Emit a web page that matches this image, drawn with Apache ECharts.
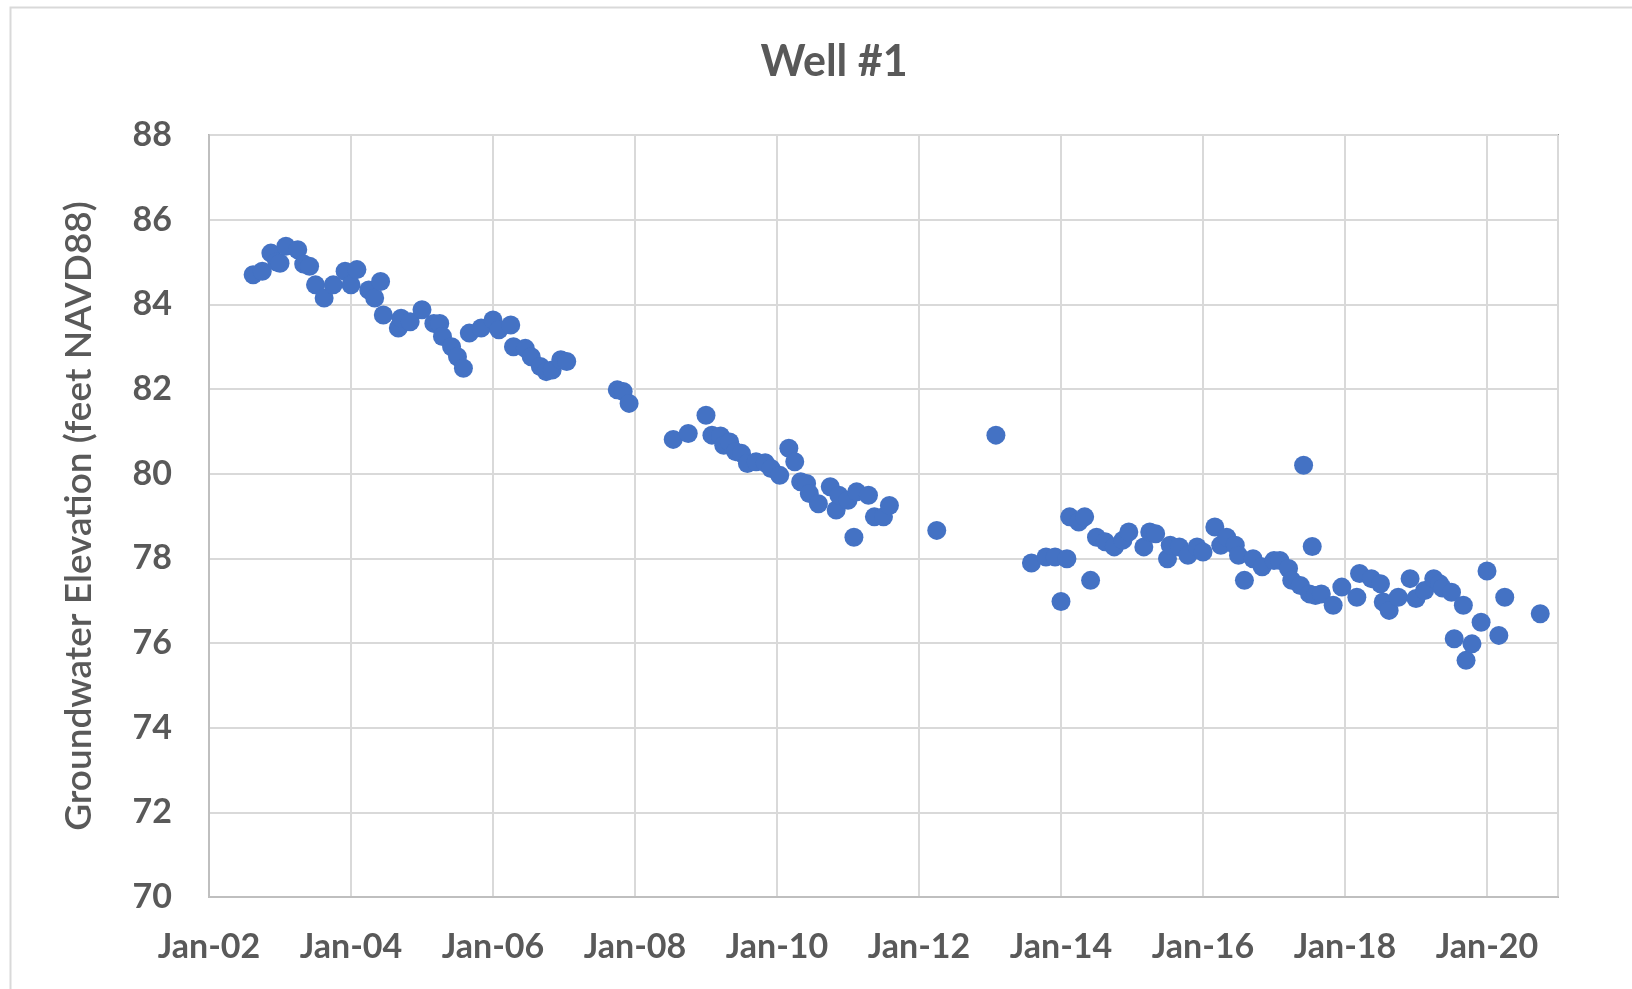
<!DOCTYPE html>
<html>
<head>
<meta charset="utf-8">
<script src="https://cdn.jsdelivr.net/npm/echarts@6/dist/echarts.min.js"></script>
<style>
html,body{margin:0;padding:0;background:#fff;}
#chart{width:1632px;height:989px;}
</style>
</head>
<body>
<div id="chart"></div>
<script>
const title = 'Well #1';
const yAxisTitle = 'Groundwater Elevation (feet NAVD88)';
const xTickYears = [2002, 2004, 2006, 2008, 2010, 2012, 2014, 2016, 2018, 2020];
const yTicks = [70, 72, 74, 76, 78, 80, 82, 84, 86, 88];

const dates = [
  '2002-08-15','2002-10-01','2002-11-15','2002-12-15','2003-01-01','2003-02-01','2003-04-01','2003-05-01','2003-06-01','2003-07-01',
  '2003-08-15','2003-10-01','2003-12-01','2004-01-01','2004-02-01','2004-04-01','2004-05-01','2004-06-01','2004-06-15','2004-09-01',
  '2004-09-15','2004-11-01','2005-01-01','2005-03-01','2005-04-01','2005-04-15','2005-06-01','2005-07-01','2005-08-01','2005-09-01',
  '2005-11-01','2006-01-01','2006-02-01','2006-04-01','2006-04-15','2006-06-15','2006-07-15','2006-09-01','2006-10-01','2006-11-01',
  '2006-12-15','2007-01-15',
  '2007-10-01','2007-11-01','2007-12-01','2008-07-15','2008-10-01','2009-01-01','2009-02-01','2009-03-15','2009-04-01','2009-05-01',
  '2009-06-01','2009-07-01','2009-08-01','2009-09-15','2009-11-01','2009-12-01','2010-01-15','2010-03-01','2010-04-01','2010-05-01',
  '2010-06-01','2010-06-15','2010-08-01','2010-10-01','2010-11-01','2010-11-15','2011-01-01','2011-02-01','2011-02-15','2011-04-15',
  '2011-05-15','2011-07-01','2011-08-01','2012-04-01','2013-02-01',
  '2013-08-01','2013-10-15','2013-12-01','2014-01-01','2014-02-01','2014-02-15','2014-04-01','2014-05-01','2014-06-01','2014-07-01',
  '2014-08-15','2014-10-01','2014-11-15','2014-12-15','2015-03-01','2015-04-01','2015-05-01','2015-07-01','2015-07-15','2015-09-01',
  '2015-10-15','2015-12-01','2016-01-01','2016-03-01','2016-04-01','2016-05-01','2016-06-15','2016-07-01','2016-08-01','2016-09-15',
  '2016-11-01','2017-01-01','2017-02-01','2017-03-15','2017-04-01','2017-05-15','2017-06-01','2017-07-01','2017-07-15','2017-08-01',
  '2017-09-01','2017-11-01','2017-12-15','2018-03-01','2018-03-15','2018-05-15','2018-07-01','2018-07-15','2018-08-15','2018-10-01',
  '2018-12-01','2019-01-01','2019-02-15','2019-04-01','2019-05-01','2019-05-15','2019-07-01','2019-07-15','2019-09-01','2019-09-15',
  '2019-10-15','2019-12-01','2020-01-01','2020-03-01','2020-04-01','2020-10-01'
];
const elevations = [
  84.70,84.78,85.21,85.00,84.97,85.37,85.29,84.95,84.90,84.46,
  84.15,84.46,84.78,84.46,84.82,84.34,84.15,84.54,83.75,83.44,
  83.67,83.59,83.87,83.55,83.55,83.24,83.00,82.76,82.49,83.32,
  83.44,83.63,83.40,83.51,83.00,82.96,82.76,82.53,82.41,82.45,
  82.69,82.65,
  81.98,81.94,81.66,80.81,80.95,81.38,80.91,80.89,80.67,80.75,
  80.52,80.48,80.24,80.28,80.26,80.12,79.96,80.60,80.28,79.81,
  79.77,79.53,79.29,79.69,79.14,79.49,79.37,78.50,79.57,79.49,
  78.98,78.98,79.25,78.66,80.91,
  77.89,78.03,78.03,76.98,77.99,78.98,78.86,78.98,77.48,78.50,
  78.39,78.27,78.43,78.62,78.27,78.62,78.58,77.99,78.31,78.27,
  78.07,78.27,78.15,78.74,78.31,78.50,78.31,78.07,77.48,77.99,
  77.80,77.95,77.95,77.76,77.48,77.36,80.20,77.16,78.28,77.12,
  77.16,76.89,77.32,77.08,77.64,77.52,77.40,76.97,76.77,77.08,
  77.52,77.05,77.24,77.52,77.40,77.30,77.20,76.10,76.89,75.59,
  75.98,76.49,77.70,76.18,77.08,76.69
];

function toYear(s) {
  const p = s.split('-').map(Number);
  return p[0] + (p[1] - 1) / 12 + (p[2] - 1) / 365;
}
const points = dates.map((d, i) => [toYear(d), elevations[i]]);

const FONT = 'Lato, "Open Sans", sans-serif';
const TXT = '#595959';

const chart = echarts.init(document.getElementById('chart'));
chart.setOption({
  backgroundColor: '#fff',
  animation: false,
  title: {
    text: title,
    left: 829, top: 36, textAlign: 'center',
    textStyle: {fontFamily: FONT, fontSize: 43, fontWeight: 'bold', color: TXT}
  },
  graphic: [{
    type: 'rect', left: 8, top: 5,
    shape: {width: 1640, height: 1000},
    style: {fill: 'none', stroke: '#d9d9d9', lineWidth: 2}
  }],
  grid: {
    left: 209, right: 74, top: 135, bottom: 92,
    show: true, borderColor: '#9a9a9a', borderWidth: 2, backgroundColor: 'transparent'
  },
  xAxis: {
    type: 'value', min: xTickYears[0], max: 2021, interval: 2,
    axisLine: {show: true, lineStyle: {color: '#bfbfbf', width: 2}},
    axisTick: {show: false},
    splitLine: {show: true, lineStyle: {color: '#d9d9d9', width: 2}},
    axisLabel: {
      fontFamily: FONT, fontSize: 34, fontWeight: 'bold', color: TXT, margin: 33,
      showMaxLabel: false,
      formatter: v => xTickYears.includes(v) ? 'Jan-' + String(v).slice(2) : ''
    }
  },
  yAxis: {
    type: 'value', min: yTicks[0], max: yTicks[yTicks.length - 1], interval: 2,
    name: yAxisTitle, nameLocation: 'middle', nameGap: 111, nameRotate: 90,
    nameTextStyle: {fontFamily: FONT, fontSize: 37, fontWeight: 600, color: TXT},
    axisLine: {show: true, lineStyle: {color: '#bfbfbf', width: 2}},
    axisTick: {show: false},
    splitLine: {show: true, lineStyle: {color: '#d9d9d9', width: 2}},
    axisLabel: {fontFamily: FONT, fontSize: 34, fontWeight: 'bold', color: TXT, margin: 37}
  },
  series: [{
    type: 'scatter',
    data: points,
    symbol: 'circle',
    symbolSize: 19,
    itemStyle: {color: '#4472C4', opacity: 1}
  }]
});
</script>
</body>
</html>
